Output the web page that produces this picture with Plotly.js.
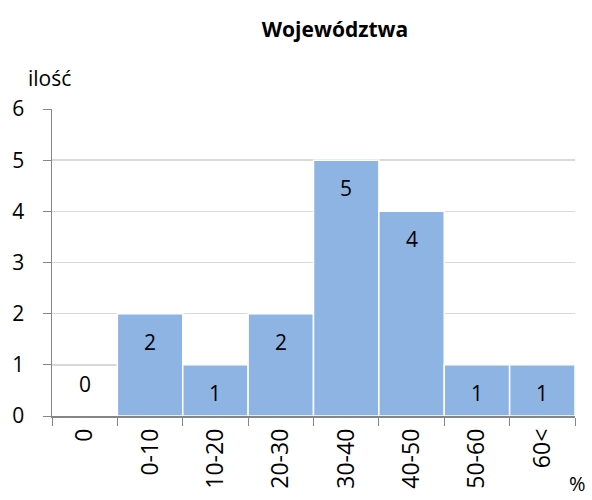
<!DOCTYPE html>
<html>
<head>
<meta charset="utf-8">
<script src="https://cdn.plot.ly/plotly-3.0.1.min.js"></script>
<style>html,body{margin:0;padding:0;background:#fff;}</style>
</head>
<body>
<div id="chart" style="width:592px;height:500px;"></div>
<script>
var categories = ["0", "0-10", "10-20", "20-30", "30-40", "40-50", "50-60", "60<"];
var counts = [0, 2, 1, 2, 5, 4, 1, 1];
var yTicks = [0, 1, 2, 3, 4, 5, 6];

var FONT = "Open Sans, Noto Sans, sans-serif";

var annotations = counts.map(function (v, i) {
  return {
    x: categories[i], y: v, xref: "x", yref: "y",
    text: String(v), showarrow: false,
    yanchor: v > 0 ? "top" : "bottom",
    yshift: v > 0 ? -12 : 16,
    font: {family: FONT, size: 21, color: "#000"}
  };
});
annotations.push({
  xref: "paper", yref: "paper", x: -0.05, y: 1.05, xanchor: "left", yanchor: "bottom",
  text: "ilość", showarrow: false, font: {family: FONT, size: 21, color: "#000"}
});
annotations.push({
  xref: "paper", yref: "paper", x: 1.025, y: -0.17, xanchor: "right", yanchor: "top",
  text: "%", showarrow: false, font: {family: FONT, size: 20, color: "#000"}
});

var trace = {
  type: "bar",
  x: categories,
  y: counts,
  marker: {color: "#8DB4E2", line: {color: "#ffffff", width: 1.5}},
  hoverinfo: "none"
};

var layout = {
  width: 592, height: 500,
  margin: {l: 52, r: 17, t: 109, b: 84},
  paper_bgcolor: "#fff", plot_bgcolor: "#fff",
  bargap: 0,
  showlegend: false,
  title: {
    text: "<b>Województwa</b>",
    font: {family: FONT, size: 21, color: "#000"},
    x: 335 / 592, xref: "container", xanchor: "center",
    y: 1 - 30 / 500, yref: "container", yanchor: "middle"
  },
  xaxis: {
    type: "category",
    tickson: "boundaries",
    ticks: "outside", ticklen: 8, tickcolor: "#868686", tickwidth: 1,
    showline: true, linecolor: "#868686", linewidth: 1.5,
    showgrid: false,
    tickangle: -90,
    tickfont: {family: FONT, size: 23, color: "#000"},
    ticklabelstandoff: 2,
    zeroline: false
  },
  yaxis: {
    range: [0, 6],
    tickvals: yTicks,
    ticks: "outside", ticklen: 8, tickcolor: "#868686", tickwidth: 1,
    showline: true, linecolor: "#868686", linewidth: 1.5,
    showgrid: true, gridcolor: "#D9D9D9", gridwidth: 1.5,
    zeroline: false,
    tickfont: {family: FONT, size: 21, color: "#000"},
    ticklabelstandoff: 14
  },
  annotations: annotations
};

Plotly.newPlot("chart", [trace], layout, {displayModeBar: false, staticPlot: true});
</script>
</body>
</html>
